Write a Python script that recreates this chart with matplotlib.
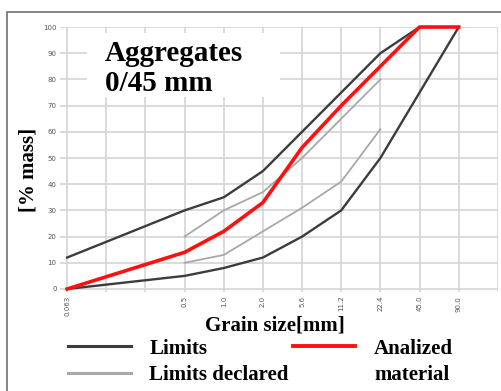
import matplotlib
matplotlib.use("Agg")
import matplotlib.pyplot as plt
from matplotlib.lines import Line2D
from matplotlib.patches import Rectangle

# axis slots (two unlabelled slots between 0.063 and 0.5)
tick_labels = ["0.063", "", "", "0.5", "1.0", "2.0", "5.6", "11.2", "22.4", "45.0", "90.0", ""]

upper_sieves = ["0.063", "0.5", "1.0", "2.0", "5.6", "11.2", "22.4", "45.0"]
upper_limit = [12, 30, 35, 45, 60, 75, 90, 100]

lower_sieves = ["0.063", "0.5", "1.0", "2.0", "5.6", "11.2", "22.4", "45.0", "90.0"]
lower_limit = [0, 5, 8, 12, 20, 30, 50, 75, 100]

decl_sieves = ["0.5", "1.0", "2.0", "5.6", "11.2", "22.4"]
decl_upper = [20, 30, 37, 50, 65, 80]
decl_lower = [10, 13, 22, 31, 41, 61]

mat_sieves = ["0.063", "0.5", "1.0", "2.0", "5.6", "11.2", "22.4", "45.0", "90.0"]
material = [0, 14, 22, 33, 54, 70, 85, 100, 100]

pos = {lab: i for i, lab in enumerate(tick_labels) if lab}

serif = "Liberation Serif"
dark = "#3c3c3c"
light = "#a8a8a8"
red = "#ff1010"

fig = plt.figure(figsize=(5.01, 3.91), dpi=100)
ax = fig.add_axes([0.1198, 0.2542, 0.874, 0.6767])

ax.plot([pos[s] for s in upper_sieves], upper_limit, color=dark, lw=1.7, clip_on=False, zorder=3)
ax.plot([pos[s] for s in lower_sieves], lower_limit, color=dark, lw=1.7, clip_on=False, zorder=3)
ax.plot([pos[s] for s in decl_sieves], decl_upper, color=light, lw=1.3, zorder=3)
ax.plot([pos[s] for s in decl_sieves], decl_lower, color=light, lw=1.3, zorder=3)
ax.plot([pos[s] for s in mat_sieves], material, color=red, lw=2.6, clip_on=False, zorder=4)

ax.set_xlim(-0.18, 11)
ax.set_ylim(-1, 100)
ax.set_xticks(range(len(tick_labels)))
ax.set_xticklabels(tick_labels, rotation=90, fontsize=5, color="#555555")
ax.set_yticks(range(0, 101, 10))
ax.tick_params(axis="y", length=0, pad=2.5, labelsize=5, labelcolor="#555555")
ax.tick_params(axis="x", length=0, pad=3)
ax.grid(True, color="#d4d4d4", lw=1.2)
ax.set_axisbelow(True)
for sp in ax.spines.values():
    sp.set_visible(False)

ax.set_xlabel("Grain size[mm]", fontsize=15, family=serif, fontweight="bold")
ax.xaxis.set_label_coords(0.49, -0.09, transform=ax.transAxes)
ax.xaxis.label.set_va("top")
ax.set_ylabel("[% mass]", fontsize=15, family=serif, fontweight="bold")
ax.yaxis.set_label_coords(-0.05, 0.46)

# white box behind the title
ax.add_patch(Rectangle((0.062, 0.735), 0.44, 0.242, transform=ax.transAxes,
                       facecolor="white", edgecolor="none", zorder=2.5))
ax.text(0.102, 0.95, "Aggregates\n0/45 mm", transform=ax.transAxes, fontsize=21,
        family=serif, fontweight="bold", va="top", ha="left", linespacing=1.15, zorder=5)

handles = [Line2D([], [], color=dark, lw=2.2),
           Line2D([], [], color=light, lw=2.2),
           Line2D([], [], color=red, lw=2.8),
           Line2D([], [], color="none")]
labels = ["Limits", "Limits declared", "Analized", "material"]
fig.legend(handles, labels, ncol=2, loc="upper left", bbox_to_anchor=(0.136, 0.134),
           frameon=False, prop=dict(family=serif, weight="bold", size=15),
           handlelength=3.0, handletextpad=0.9, columnspacing=0.2, labelspacing=0.32,
           borderpad=0, borderaxespad=0)

fig.add_artist(Rectangle((7 / 501, -0.1), 1.2, 0.1 + (391 - 11.5) / 391,
                         transform=fig.transFigure, fill=False, edgecolor="#707070", lw=1.2))

fig.savefig("out.png", dpi=100)
